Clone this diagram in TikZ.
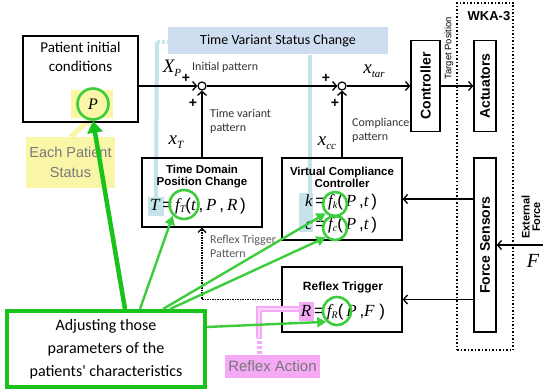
\documentclass[tikz,border=0pt]{standalone}
\usepackage{fontspec}
\setmainfont{Liberation Sans}
\newfontfamily\calfont{Carlito}
\newfontfamily\tmsfont{Liberation Serif}
\usetikzlibrary{arrows.meta}

\definecolor{grn}{RGB}{60,205,60}
\definecolor{grnbox}{RGB}{25,195,25}
\definecolor{ylw}{RGB}{250,246,168}
\definecolor{bluebox}{RGB}{206,222,240}
\definecolor{bluelin}{RGB}{196,228,234}
\definecolor{pnk}{RGB}{246,170,246}
\definecolor{greytxt}{RGB}{120,120,120}

% italic serif formula pieces
\newcommand{\mi}[1]{{\tmsfont\itshape #1}}
\newcommand{\msub}[2]{{\tmsfont\itshape #1\raisebox{-0.3ex}{\fontsize{10}{10}\selectfont #2}}}

\tikzset{
  blk/.style={draw, line width=1.3pt, inner sep=0pt},
  vblk/.style={blk, font=\fontsize{14}{14}\selectfont\bfseries, rotate=90},
  ttl/.style={font=\fontsize{11.5}{12}\selectfont\bfseries, align=center, inner sep=0pt},
  frm/.style={font=\fontsize{17}{17}\selectfont, inner sep=0pt},
  small/.style={font=\calfont\fontsize{12}{14}\selectfont, align=left, anchor=west, inner sep=0pt, text=black!80},
  sumc/.style={circle, draw, line width=1.2pt, fill=white, minimum size=8pt, inner sep=0pt},
  arr/.style={line width=1.3pt, -{Straight Barb[length=4pt,width=9pt,line width=1.3pt]}},
  gcirc/.style={circle, draw=grn, line width=2.6pt, inner sep=0pt},
  garr/.style={draw=grn, line width=2.4pt, -{Triangle[length=9pt,width=10pt]}, fill=grn},
  plus/.style={font=\fontsize{14}{14}\selectfont\bfseries, inner sep=0pt},
  var/.style={font=\tmsfont\itshape\fontsize{19}{19}\selectfont, inner sep=0pt},
}

\begin{document}
\begin{tikzpicture}[x=1pt, y=-1pt]
\useasboundingbox (0,0) rectangle (543,390);

% ---------- highlight backgrounds ----------
\node[fill=bluebox, minimum width=220pt, minimum height=27pt, inner sep=0pt,
      font=\calfont\fontsize{14}{14}\selectfont] (tvs) at (278,41) {Time Variant Status Change};
\node[fill=ylw, minimum width=42pt, minimum height=28pt, inner sep=0pt] (pbg) at (92,104) {};
\node[fill=ylw, minimum width=89pt, minimum height=51pt, inner sep=0pt, align=center,
      text=greytxt, font=\fontsize{14.5}{20}\selectfont] (eps) at (70.5,162.5) {Each Patient\\Status};
\draw[ylw, line width=5pt] (pbg.south) -- (eps.north);

\node[fill=bluelin, minimum width=16pt, minimum height=19pt, inner sep=0pt] (tbg) at (156,206.5) {};
\node[fill=bluelin, minimum width=14pt, minimum height=39pt, inner sep=0pt] (kbg) at (306,212.5) {};
\node[fill=pnk, minimum width=15pt, minimum height=19pt, inner sep=0pt] (rbg) at (306.5,311.5) {};

\coordinate (tvsa) at (157,42);
\coordinate (tvsb) at (310,55);
\draw[bluelin, line width=4pt] (tvsa) -- (tbg.north);
\draw[bluelin, line width=4pt, dash pattern=on 3pt off 2pt] (tvsa) -- (tvs.west |- tvsa);
\draw[bluelin, line width=4pt] (tvsb) -- (kbg.north -| tvsb);

% ---------- blocks ----------
\node[blk, minimum width=115pt, minimum height=86pt] (pat) at (80.5,79) {};
\node[font=\calfont\fontsize{15}{19}\selectfont, align=center, inner sep=0pt] (pattxt) at (80.5,57)
  {Patient initial\\conditions};
\node[font=\tmsfont\itshape\fontsize{16}{16}\selectfont, inner sep=0pt] (ptxt) at (93,104) {P};
\node[gcirc, minimum size=31pt] (pc) at (93,104) {};

\node[sumc] (s1) at (202,86) {};
\node[sumc] (s2) at (342,86) {};

\node[blk, minimum width=120pt, minimum height=69pt] (td) at (202,192.5) {};
\node[ttl] (tdt) at (202,177) {Time Domain\\Position Change};
\node[frm] (tdf) at (198,206) {\mi{T}\,=\,\msub{f}{T}({\tmsfont\itshape t}\,,\,\mi{P}\,,\,\mi{R}\,)};
\node[gcirc, minimum size=29pt] (cT) at (184,204.5) {};

\node[blk, minimum width=120pt, minimum height=82pt] (vcc) at (342,199) {};
\node[ttl] (vcct) at (342,177) {Virtual Compliance\\Controller};
\node[frm] (vk) at (341,202) {\mi{k}\,=\,\msub{f}{k}(\,\mi{P}\,,\mi{t}\,)};
\node[frm] (vc) at (341,225) {\mi{c}\,=\,\msub{f}{c}(\,\mi{P}\,,\mi{t}\,)};
\node[gcirc, minimum size=24pt] (ck) at (335,204) {};
\node[gcirc, minimum size=24pt] (cc) at (335,228) {};

\node[blk, minimum width=120pt, minimum height=65pt] (rt) at (342,299.5) {};
\node[ttl, font=\fontsize{12}{12}\selectfont\bfseries] (rtt) at (343,287) {Reflex Trigger};
\node[frm] (rtf) at (343,312) {\mi{R}\,=\,\msub{f}{R}(\,\mi{P}\,,\mi{F}\;)};
\node[gcirc, minimum size=28pt] (cR) at (337,311) {};

\node[vblk, minimum width=91pt, minimum height=29pt] (ctrl) at (425.5,86) {Controller};
\node[draw, dotted, line width=1.5pt, minimum width=56pt, minimum height=347pt, inner sep=0pt] (wka) at (485,176.5) {};
\node[font=\fontsize{13}{13}\selectfont\bfseries, inner sep=0pt] (wkat) at (489,16) {WKA-3};
\node[vblk, minimum width=91pt, minimum height=22pt] (act) at (485,86) {Actuators};
\node[vblk, minimum width=174pt, minimum height=22pt] (fs) at (485,245) {Force Sensors};

% ---------- signal flow ----------
\draw[arr] (pat.east |- s1) -- (s1.west);
\draw[arr] (td.north) -- (s1.south);
\draw[arr] (s1.east) -- (s2.west);
\draw[arr] (vcc.north) -- (s2.south);
\draw[arr] (s2.east) -- (ctrl.north);
\draw[arr] (ctrl.south) -- (act.north);
\draw[arr] (fs.north |- vcc) -- (vcc.east);
\draw[arr] (fs.north |- rt) -- (rt.east);
\coordinate (ext) at (543,245);
\draw[arr] (ext) -- (fs.south);
\draw[line width=1.5pt, densely dotted, -{Straight Barb[length=4pt,width=8pt,line width=1.2pt]}]
  (rt.west) -| (td.south);

% ---------- labels ----------
\node[var] (xp) at (172,68) {X\raisebox{-0.45ex}{\fontsize{11}{11}\selectfont P}};
\node[plus] (p1) at (186,78) {+};
\node[plus] (p2) at (193,103) {+};
\node[small] (ip) at (192,67) {Initial pattern};
\node[small] (tvp) at (210,121.5) {Time variant\\pattern};
\node[var] (xt) at (176,142) {x\raisebox{-0.45ex}{\fontsize{11}{11}\selectfont T}};

\node[plus] (p3) at (326,78) {+};
\node[plus] (p4) at (335,103) {+};
\node[var] (xtar) at (374,71) {x\raisebox{-0.45ex}{\fontsize{11}{11}\selectfont tar}};
\node[small] (cp) at (352,130) {Compliance\\pattern};
\node[var] (xcc) at (327,143) {x\raisebox{-0.45ex}{\fontsize{11}{11}\selectfont cc}};
\node[small, text=black!65] (rtp) at (210,246.5) {Reflex Trigger\\Pattern};

\node[rotate=90, font=\fontsize{9.4}{9.4}\selectfont, inner sep=0pt] (tp) at (449,48) {Target Position};
\node[rotate=90, font=\fontsize{11}{10.5}\selectfont\bfseries, align=center, inner sep=0pt] (ef) at (531,217) {External\\Force};
\node[font=\tmsfont\itshape\fontsize{20}{20}\selectfont, inner sep=0pt] (ftxt) at (533,261) {F};

% ---------- reflex action ----------
\node[fill=pnk, minimum width=95pt, minimum height=23pt, inner sep=0pt, text=greytxt,
      font=\fontsize{15}{15}\selectfont] (ra) at (272.5,366) {Reflex Action};
\coordinate (rak) at (259,338);
\draw[pnk, line width=5pt, double=pnk!45, double distance=1.5pt, line width=1.8pt]
  (rak) -- (259,309) -- (rbg.west |- 0,309);
\draw[pnk, line width=5pt, dash pattern=on 3pt off 2pt] (ra.north -| rak) -- (rak);

% ---------- patient parameters ----------
\node[draw=grnbox, line width=4pt, fill=white, minimum width=198pt, minimum height=76pt, align=center,
      inner sep=0pt, font=\calfont\fontsize{16}{23}\selectfont] (adj) at (106,349)
  {Adjusting those\\parameters of the\\patients' characteristics};
\draw[draw=grnbox, line width=4.5pt, -{Triangle[length=12pt,width=15pt]}, fill=grnbox]
  (adj.north -| 125,0) -- (pc.south);
\draw[garr] (adj.north -| 140,0) -- (cT.south west);
\draw[garr] (adj.north -| 163,0) -- (ck.south west);
\draw[garr] (adj.north -| 170,0) -- (cc.south west);
\draw[garr] (adj.east |- 0,327) -- (cR.south west);
\end{tikzpicture}
\end{document}
